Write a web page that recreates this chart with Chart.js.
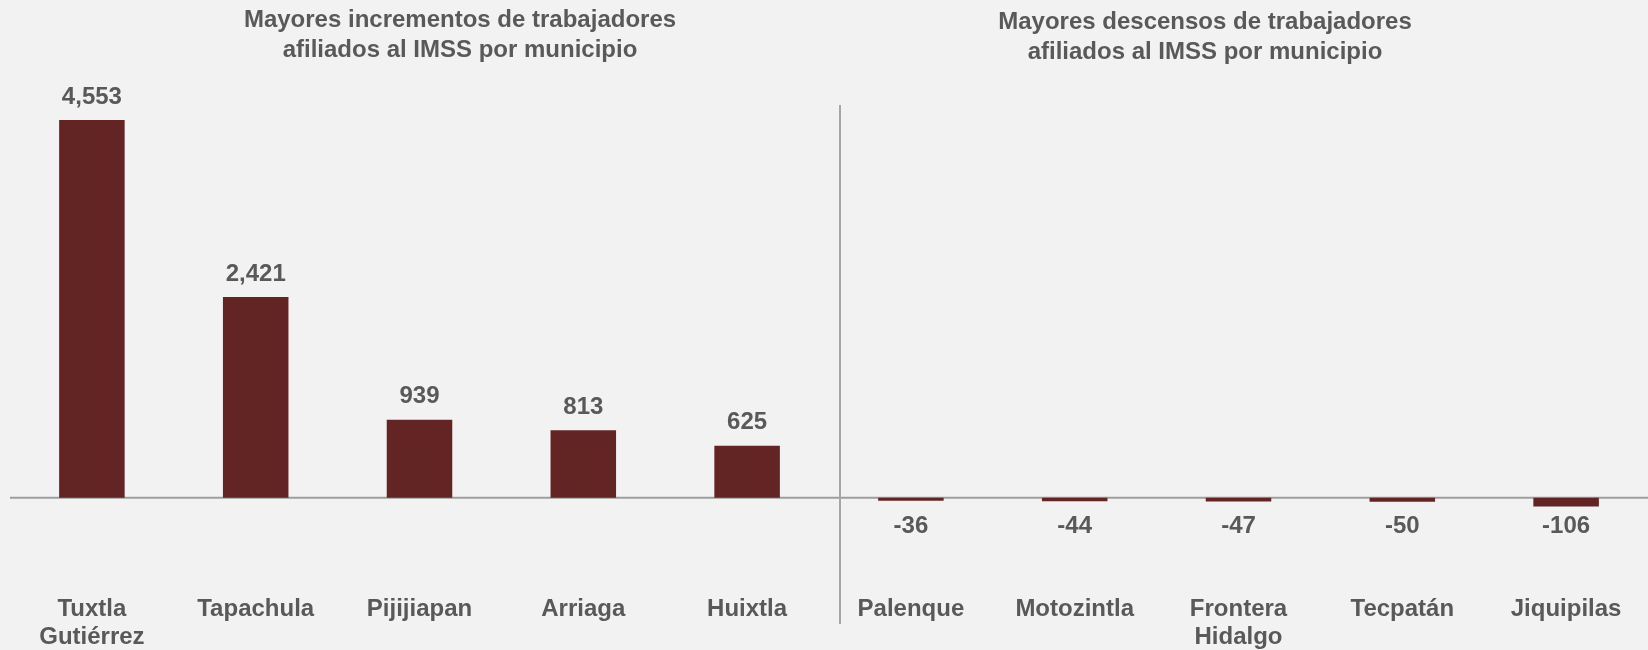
<!DOCTYPE html>
<html>
<head>
<meta charset="utf-8">
<script src="https://cdn.jsdelivr.net/npm/chart.js@4.4.1/dist/chart.umd.min.js"></script>
<style>
  html,body{margin:0;padding:0;background:#f2f2f2;}
  #wrap{width:1648px;height:650px;position:relative;}
</style>
</head>
<body>
<div id="wrap"><canvas id="chart"></canvas></div>
<script>
// municipios: 5 mayores alzas, 5 mayores bajas
const municipios = [
  ['Tuxtla','Gutiérrez'], 'Tapachula', 'Pijijiapan', 'Arriaga', 'Huixtla',
  'Palenque', 'Motozintla', ['Frontera','Hidalgo'], 'Tecpatán', 'Jiquipilas'
];
const variacion = [4553, 2421, 939, 813, 625, -36, -44, -47, -50, -106];
const titulos = [
  ['Mayores incrementos de trabajadores', 'afiliados al IMSS por municipio'],
  ['Mayores descensos de trabajadores', 'afiliados al IMSS por municipio']
];

const gris = '#595959';
const fuente = 'bold 24px "Liberation Sans", Arial, sans-serif';

const extras = {
  id:'extras',
  beforeDatasetsDraw(chart){
    const {ctx, chartArea, scales} = chart;
    const y0 = scales.y.getPixelForValue(0);
    ctx.save();
    ctx.strokeStyle = '#9e9e9e';
    ctx.lineWidth = 2;
    ctx.beginPath();
    ctx.moveTo(chartArea.left, y0);
    ctx.lineTo(chartArea.right, y0);
    ctx.stroke();
    ctx.restore();
  },
  afterDraw(chart){
    const {ctx, scales} = chart;
    const y0 = scales.y.getPixelForValue(0);
    ctx.save();
    // separador entre los dos grupos
    const xs = scales.x.getPixelForValue(4.5) + 11;
    ctx.strokeStyle = '#a6a6a6';
    ctx.lineWidth = 2;
    ctx.beginPath();
    ctx.moveTo(xs, 105);
    ctx.lineTo(xs, 624);
    ctx.stroke();

    ctx.fillStyle = gris;
    ctx.font = fuente;
    ctx.textAlign = 'center';
    ctx.textBaseline = 'middle';
    // etiquetas de valor
    const meta = chart.getDatasetMeta(0);
    meta.data.forEach((bar, i) => {
      const v = variacion[i];
      const txt = v.toLocaleString('en-US');
      ctx.fillText(txt, bar.x, v >= 0 ? bar.y - 23 : y0 + 29);
    });
    // titulos
    const centros = [460, 1205];
    const alto = [20, 22];
    titulos.forEach((t, k) => {
      t.forEach((linea, j) => ctx.fillText(linea, centros[k], alto[k] + j*30));
    });
    ctx.restore();
  }
};

new Chart(document.getElementById('chart'), {
  type:'bar',
  data:{
    labels: municipios,
    datasets:[{
      data: variacion,
      backgroundColor:'#632424',
      borderWidth:0,
      categoryPercentage:1,
      barPercentage:0.4
    }]
  },
  options:{
    responsive:true,
    maintainAspectRatio:false,
    animation:false,
    layout:{padding:{left:10, right:0, top:70, bottom:-9}},
    plugins:{legend:{display:false}, tooltip:{enabled:false}},
    scales:{
      x:{
        grid:{display:false, drawTicks:false},
        border:{display:false},
        ticks:{
          color:gris,
          padding:8,
          maxRotation:0,
          autoSkip:false,
          font:{family:'"Liberation Sans", Arial, sans-serif', size:24, weight:'bold', lineHeight:1.17}
        }
      },
      y:{
        display:false,
        min:-1075,
        max:5157
      }
    }
  },
  plugins:[extras]
});
</script>
</body>
</html>
